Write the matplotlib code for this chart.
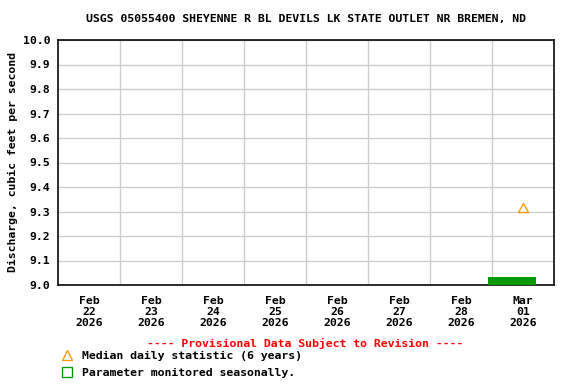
import matplotlib
matplotlib.use("Agg")
import matplotlib.pyplot as plt
import matplotlib.dates as mdates
from matplotlib.path import Path
from datetime import datetime

title = "USGS 05055400 SHEYENNE R BL DEVILS LK STATE OUTLET NR BREMEN, ND"
ylabel = "Discharge, cubic feet per second"
tick_dates = ["2026-02-22", "2026-02-23", "2026-02-24", "2026-02-25",
              "2026-02-26", "2026-02-27", "2026-02-28", "2026-03-01"]
tick_labels = ["Feb\n22\n2026", "Feb\n23\n2026", "Feb\n24\n2026", "Feb\n25\n2026",
               "Feb\n26\n2026", "Feb\n27\n2026", "Feb\n28\n2026", "Mar\n01\n2026"]
median_date = ["2026-03-01 12:00"]
median_value = [9.3]
seasonal_start = "2026-02-28 22:30"
seasonal_end = "2026-03-01 17:00"
yticks = [9.0, 9.1, 9.2, 9.3, 9.4, 9.5, 9.6, 9.7, 9.8, 9.9, 10.0]

plt.rcParams['font.family'] = ['DejaVu Sans Mono']
plt.rcParams['font.weight'] = 'bold'
fs = 8.6

fig = plt.figure(figsize=(6, 4), dpi=96)
ax = fig.add_axes([58/576, 1-285/384, (554-58)/576, (285-40)/384])

d = lambda s: mdates.date2num(datetime.fromisoformat(s))
x0 = d("2026-02-22")
x1 = d("2026-03-02")
ax.set_xlim(x0, x1)
ax.set_ylim(9.0, 10.0)

ax.set_yticks(yticks)
ax.set_yticklabels([f"{v:.1f}" for v in yticks], fontsize=fs, fontweight='bold')
for gx in [d(t) for t in tick_dates[1:]]:
    ax.axvline(gx, color='#cccccc', lw=1, zorder=0)
ax.grid(axis='y', color='#cccccc', lw=1, zorder=0)
ax.set_xticks([d(t) + 0.5 for t in tick_dates])
ax.set_xticklabels(tick_labels, fontsize=fs, fontweight='bold', linespacing=1.12)
ax.tick_params(axis='y', length=0, pad=6)
ax.tick_params(axis='x', length=0, pad=8)
for s in ax.spines.values():
    s.set_linewidth(1.2)

ax.axvspan(d(seasonal_start), d(seasonal_end), ymin=0, ymax=8/245,
           color='#009900', zorder=3, lw=0)

tri = Path([(-1, 0), (1, 0), (0, 1.8), (-1, 0)],
           [Path.MOVETO, Path.LINETO, Path.LINETO, Path.CLOSEPOLY])
ax.plot([d(t) for t in median_date], median_value, marker=tri, ms=13.5, mfc='none',
        mec='#ff9900', mew=1, ls='none', zorder=4)

ax.set_ylabel(ylabel, fontsize=fs, fontweight='bold', labelpad=3)
fig.text(306/576, 1-19/384, title, ha='center', va='center', fontsize=fs, fontweight='bold')

fig.text(305/576, 1-343/384, "---- Provisional Data Subject to Revision ----",
         ha='center', va='center', fontsize=fs, fontweight='bold', color='red')
fig.lines.append(plt.Line2D([67/576], [1-355/384], marker='^', ms=7, mfc='none',
                            mec='#ff9900', mew=1, transform=fig.transFigure))
fig.lines.append(plt.Line2D([67/576], [1-372/384], marker='s', ms=7, mfc='none',
                            mec='#009900', mew=1, transform=fig.transFigure))
fig.text(82/576, 1-356/384, "Median daily statistic (6 years)", ha='left', va='center',
         fontsize=fs, fontweight='bold')
fig.text(82/576, 1-373/384, "Parameter monitored seasonally.", ha='left', va='center',
         fontsize=fs, fontweight='bold')

fig.savefig("out.png", dpi=96)
